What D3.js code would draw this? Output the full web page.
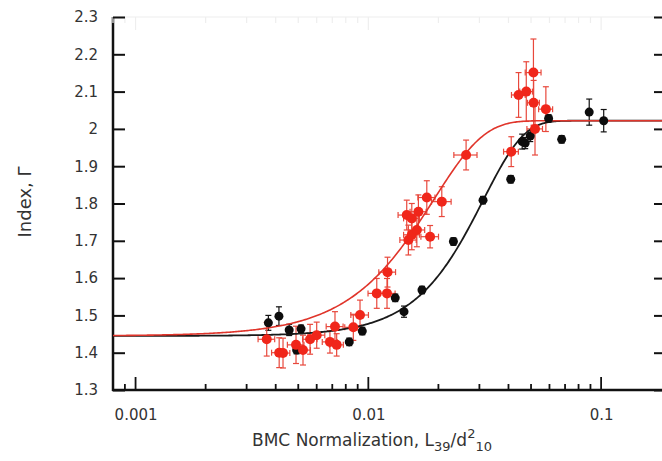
<!DOCTYPE html>
<html>
<head>
<meta charset="utf-8">
<script src="https://cdn.jsdelivr.net/npm/d3@7"></script>
<style>
  html, body { margin: 0; padding: 0; background: #fff; }
  svg { display: block; }
  text { font-family: "DejaVu Sans", "Liberation Sans", sans-serif; fill: #333; }
</style>
</head>
<body>
<svg id="chart" width="662" height="461"></svg>
<script>
// Sample without BMC cut (black) and with it (red)
const blackX   = [0.00372, 0.00413, 0.00457, 0.00492, 0.00514, 0.00828, 0.00942, 0.01305, 0.01423, 0.0170,
                  0.0232, 0.0311, 0.0409, 0.0458, 0.0472, 0.0496, 0.0595, 0.0677, 0.0889, 0.1026];
const blackY   = [1.480, 1.498, 1.461, 1.407, 1.464, 1.429, 1.458, 1.547, 1.510, 1.568,
                  1.698, 1.809, 1.865, 1.966, 1.962, 1.981, 2.028, 1.972, 2.045, 2.022];
const blackErr = [0.02, 0.025, 0.015, 0.01, 0.01, 0.01, 0.01, 0.01, 0.015, 0.01,
                  0.01, 0.01, 0.01, 0.02, 0.015, 0.015, 0.01, 0.01, 0.035, 0.03];

const redX    = [0.00366, 0.00414, 0.00430, 0.00489, 0.00524, 0.00562, 0.00600, 0.00684, 0.00731, 0.00719,
                 0.00862, 0.00921, 0.01087, 0.01203, 0.01209, 0.01486, 0.01537, 0.01616, 0.01462, 0.01537,
                 0.01641, 0.01783, 0.01842, 0.02068, 0.0263, 0.0411, 0.0442, 0.0477, 0.0512, 0.0513,
                 0.0579, 0.0520];
const redY    = [1.436, 1.400, 1.399, 1.421, 1.407, 1.436, 1.447, 1.429, 1.421, 1.470,
                 1.468, 1.501, 1.559, 1.559, 1.616, 1.702, 1.716, 1.729, 1.769, 1.760,
                 1.778, 1.816, 1.711, 1.805, 1.930, 1.939, 2.091, 2.100, 2.151, 2.070,
                 2.053, 2.000];
const redYErr = [0.045, 0.04, 0.04, 0.05, 0.04, 0.04, 0.035, 0.03, 0.03, 0.04,
                 0.035, 0.04, 0.04, 0.04, 0.04, 0.04, 0.04, 0.045, 0.04, 0.04,
                 0.045, 0.045, 0.03, 0.04, 0.04, 0.04, 0.06, 0.08, 0.09, 0.06,
                 0.06, 0.07];
const redXErr = [0.0003, 0.0003, 0.0003, 0.0004, 0.0004, 0.0004, 0.0005, 0.0005, 0.0005, 0.0006,
                 0.0007, 0.0008, 0.0009, 0.0010, 0.0010, 0.0012, 0.0012, 0.0013, 0.0012, 0.0012,
                 0.0013, 0.0015, 0.0016, 0.0020, 0.0030, 0.0030, 0.003, 0.003, 0.004, 0.003,
                 0.004, 0.004];

// Fit parameters: [low index, high index, scale x0, exponent]
const fitBlack = [1.445, 2.022, 0.0312, 2.5];
const fitRed   = [1.445, 2.022, 0.01908, 2.0];

const xTicks = [0.001, 0.01, 0.1];
const yTicks = [1.3, 1.4, 1.5, 1.6, 1.7, 1.8, 1.9, 2.0, 2.1, 2.2, 2.3];

const svg = d3.select("#chart");
const pLeft = 113, pRight = 666, pTop = 17, pBottom = 390;

const x = d3.scaleLog().domain([0.0008, 0.19]).range([pLeft, pRight]);
const y = d3.scaleLinear().domain([1.3, 2.3]).range([pBottom, pTop]);

const fitFn = p => v => p[0] + (p[1] - p[0]) * (1 - Math.exp(-Math.pow(v / p[2], p[3])));

// frame
const frame = svg.append("g");
frame.append("line").attr("x1", pLeft).attr("x2", pLeft).attr("y1", pTop).attr("y2", pBottom + 1)
  .attr("stroke", "#111").attr("stroke-width", 2.5);
frame.append("line").attr("x1", pLeft - 1).attr("x2", pRight).attr("y1", pBottom).attr("y2", pBottom)
  .attr("stroke", "#111").attr("stroke-width", 2.5);
frame.append("line").attr("x1", pRight).attr("x2", pRight).attr("y1", pTop).attr("y2", pBottom)
  .attr("stroke", "#111").attr("stroke-width", 2.5);
frame.append("line").attr("x1", pLeft).attr("x2", pRight).attr("y1", pTop).attr("y2", pTop)
  .attr("stroke", "#eee").attr("stroke-width", 1.2);

// x ticks: majors long, minors at each integer multiple
const minor = [];
for (let e = -4; e <= -1; e++) {
  for (let m = 1; m <= 9; m++) {
    const v = m * Math.pow(10, e);
    if (v >= 0.0008 && v <= 0.19) minor.push(v);
  }
}
const isMajor = d => xTicks.some(t => Math.abs(t - d) / t < 1e-6);
const tickG = svg.append("g");
tickG.selectAll("line.xb").data(minor).join("line").attr("class", "xb")
  .attr("x1", d => x(d)).attr("x2", d => x(d))
  .attr("y1", pBottom).attr("y2", d => pBottom - (isMajor(d) ? 13 : 6))
  .attr("stroke", "#111").attr("stroke-width", 1.8);
tickG.selectAll("line.xt").data(minor).join("line").attr("class", "xt")
  .attr("x1", d => x(d)).attr("x2", d => x(d))
  .attr("y1", pTop).attr("y2", d => pTop + (isMajor(d) ? 13 : 6))
  .attr("stroke", "#eee").attr("stroke-width", 1.2);

const xAxis = svg.append("g").attr("transform", `translate(0,${pBottom})`)
  .call(d3.axisBottom(x).tickValues(xTicks).tickSize(0).tickPadding(19)
    .tickFormat(d => String(d)));
xAxis.select(".domain").remove();
xAxis.selectAll("text").attr("font-size", 15).attr("fill", "#333")
  .attr("font-family", "DejaVu Sans, sans-serif");

const yAxis = svg.append("g").attr("transform", `translate(${pLeft},0)`)
  .call(d3.axisLeft(y).tickValues(yTicks).tickSize(-12).tickPadding(15)
    .tickFormat(d => String(+d.toFixed(1))));
yAxis.select(".domain").remove();
yAxis.selectAll("line").attr("stroke", "#111").attr("stroke-width", 2);
yAxis.selectAll("text").attr("font-size", 15).attr("fill", "#333")
  .attr("font-family", "DejaVu Sans, sans-serif");

const yAxisR = svg.append("g").attr("transform", `translate(${pRight},0)`)
  .call(d3.axisRight(y).tickValues(yTicks).tickSize(-12).tickFormat(""));
yAxisR.select(".domain").remove();
yAxisR.selectAll("line").attr("stroke", "#111").attr("stroke-width", 2);

// fitted curves
const xs = d3.range(0, 401).map(i => Math.pow(10, Math.log10(0.0008) + i / 400 * Math.log10(0.19 / 0.0008)));
const line = f => d3.line().x(d => x(d)).y(d => y(f(d)));

const plot = svg.append("g");

// black series
const blackData = blackX.map((v, i) => ({ x: v, y: blackY[i], e: blackErr[i] }));
const bErr = plot.append("g").attr("stroke", "#111").attr("stroke-width", 1.2);
blackData.forEach(d => {
  const x0 = x(d.x), y1 = y(d.y + d.e), y2 = y(d.y - d.e);
  bErr.append("line").attr("x1", x0).attr("x2", x0).attr("y1", y1).attr("y2", y2);
  bErr.append("line").attr("x1", x0 - 3).attr("x2", x0 + 3).attr("y1", y1).attr("y2", y1);
  bErr.append("line").attr("x1", x0 - 3).attr("x2", x0 + 3).attr("y1", y2).attr("y2", y2);
});

// red series
const redData = redX.map((v, i) => ({ x: v, y: redY[i], e: redYErr[i], xe: redXErr[i] }));
const rErr = plot.append("g").attr("stroke", "#e8483c").attr("stroke-width", 1.2);
redData.forEach(d => {
  const x0 = x(d.x), y0 = y(d.y);
  const y1 = y(d.y + d.e), y2 = y(d.y - d.e);
  const xa = x(d.x - d.xe), xb = x(d.x + d.xe);
  rErr.append("line").attr("x1", x0).attr("x2", x0).attr("y1", y1).attr("y2", y2);
  rErr.append("line").attr("x1", x0 - 3).attr("x2", x0 + 3).attr("y1", y1).attr("y2", y1);
  rErr.append("line").attr("x1", x0 - 3).attr("x2", x0 + 3).attr("y1", y2).attr("y2", y2);
  rErr.append("line").attr("x1", xa).attr("x2", xb).attr("y1", y0).attr("y2", y0);
  rErr.append("line").attr("x1", xa).attr("x2", xa).attr("y1", y0 - 3).attr("y2", y0 + 3);
  rErr.append("line").attr("x1", xb).attr("x2", xb).attr("y1", y0 - 3).attr("y2", y0 + 3);
});

plot.append("path").datum(xs).attr("d", line(fitFn(fitBlack)))
  .attr("fill", "none").attr("stroke", "#1a1a1a").attr("stroke-width", 1.8);
plot.append("path").datum(xs).attr("d", line(fitFn(fitRed)))
  .attr("fill", "none").attr("stroke", "#e0352b").attr("stroke-width", 1.6);

plot.append("g").selectAll("circle").data(blackData).join("circle")
  .attr("cx", d => x(d.x)).attr("cy", d => y(d.y)).attr("r", 4.5).attr("fill", "#0d0d0d");
plot.append("g").selectAll("circle").data(redData).join("circle")
  .attr("cx", d => x(d.x)).attr("cy", d => y(d.y)).attr("r", 5).attr("fill", "#f0261a");

// axis titles
const xt = svg.append("text").attr("x", 372).attr("y", 446).attr("text-anchor", "middle")
  .attr("font-size", 17);
xt.append("tspan").text("BMC Normalization, L");
xt.append("tspan").attr("font-size", 13).attr("dy", 5).text("39");
xt.append("tspan").attr("dy", -5).text("/d");
xt.append("tspan").attr("font-size", 13).attr("dy", -8).text("2");
xt.append("tspan").attr("font-size", 13).attr("dy", 13).text("10");

svg.append("text").attr("transform", "translate(31,202) rotate(-90)")
  .attr("text-anchor", "middle").attr("font-size", 18).text("Index, Γ");
</script>
</body>
</html>
